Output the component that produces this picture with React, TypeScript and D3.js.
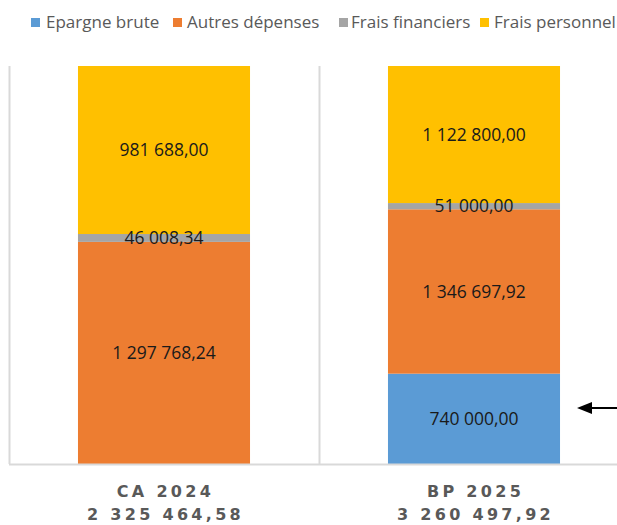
import React from "react";
import * as d3 from "d3";

const categories = ["CA 2024", "BP 2025"];
const totals = ["2 325 464,58", "3 260 497,92"];
const seriesNames = ["Epargne brute", "Autres dépenses", "Frais financiers", "Frais personnel"];
const epargneBrute = [0, 740000.0];
const autresDepenses = [1297768.24, 1346697.92];
const fraisFinanciers = [46008.34, 51000.0];
const fraisPersonnel = [981688.0, 1122800.0];
const colors = ["#5B9BD5", "#ED7D31", "#A5A5A5", "#FFC000"];

const W = 617;
const H = 525;
const plotLeft = 9;
const plotTop = 66;
const plotBottom = 464;

const locale = d3.formatLocale({ decimal: ",", thousands: " ", grouping: [3], currency: ["", "€"] });
const fmt = locale.format(",.2f");

export default function App() {
  const seriesArrays = [epargneBrute, autresDepenses, fraisFinanciers, fraisPersonnel];
  const rows = categories.map((c, i) => {
    const r: any = { cat: c };
    seriesNames.forEach((s, j) => (r[s] = seriesArrays[j][i]));
    return r;
  });
  const stack = d3.stack<any>().keys(seriesNames).offset(d3.stackOffsetExpand);
  const stacked = stack(rows);

  const x = d3.scaleBand<string>().domain(categories).range([plotLeft, plotLeft + 620]).paddingInner(0).paddingOuter(0);
  const y = d3.scaleLinear().domain([0, 1]).range([plotBottom, plotTop]);
  const barW = x.bandwidth() * 0.555;

  const legendItems = [
    { sx: 31, tx: 46 },
    { sx: 173, tx: 187 },
    { sx: 339, tx: 351 },
    { sx: 480, tx: 494 },
  ];

  return (
    <svg width={W} height={H} style={{ position: "absolute", left: 0, top: 0 }}>
      <rect x={0} y={0} width={W} height={H} fill="#fff" />
      {/* legend */}
      {seriesNames.map((s, i) => (
        <g key={s}>
          <rect x={legendItems[i].sx} y={18} width={9} height={9} fill={colors[i]} />
          <text x={legendItems[i].tx} y={28} fontFamily="Open Sans" fontSize={17} fill="#595959">
            {s}
          </text>
        </g>
      ))}
      {/* grid / frame lines */}
      <line x1={plotLeft + 0.5} x2={plotLeft + 0.5} y1={plotTop} y2={plotBottom} stroke="#D9D9D9" strokeWidth={2} />
      {categories.slice(1).map((c) => (
        <line key={c} x1={x(c)! + 0.5} x2={x(c)! + 0.5} y1={plotTop} y2={plotBottom} stroke="#D9D9D9" strokeWidth={2} />
      ))}
      {/* bars */}
      {stacked.map((ser, si) => (
        <g key={ser.key}>
          {ser.map((d, ci) => {
            const cat = categories[ci];
            const bx = x(cat)! + (x.bandwidth() - barW) / 2;
            return (
              <rect key={cat} x={bx} y={y(d[1])} width={barW} height={Math.max(0, y(d[0]) - y(d[1]))} fill={colors[si]} />
            );
          })}
        </g>
      ))}
      <line x1={plotLeft} x2={W} y1={plotBottom + 0.5} y2={plotBottom + 0.5} stroke="#D9D9D9" strokeWidth={2} />
      {/* data labels */}
      {stacked.map((ser, si) => (
        <g key={"l" + ser.key}>
          {ser.map((d, ci) => {
            const v = seriesArrays[si][ci];
            if (!v) return null;
            const cat = categories[ci];
            const cx = x(cat)! + x.bandwidth() / 2;
            const cy = (y(d[0]) + y(d[1])) / 2;
            return (
              <text key={cat} x={cx} y={cy} dy="0.36em" textAnchor="middle" fontFamily="Open Sans" fontSize={17.5} fill="#1a1a1a">
                {fmt(v)}
              </text>
            );
          })}
        </g>
      ))}
      {/* category labels */}
      {categories.map((c, i) => {
        const cx = x(c)! + x.bandwidth() / 2 + 1.5;
        return (
          <g key={"c" + c}>
            <text x={cx} y={497} textAnchor="middle" fontFamily="DejaVu Sans" fontWeight="bold" fontSize={16} letterSpacing={3.3} fill="#595959">
              {c}
            </text>
            <text x={cx} y={520} textAnchor="middle" fontFamily="DejaVu Sans" fontWeight="bold" fontSize={16} letterSpacing={3.3} fill="#595959">
              {totals[i]}
            </text>
          </g>
        );
      })}
      {/* arrow */}
      <line x1={W} x2={588} y1={408} y2={408} stroke="#000" strokeWidth={2} />
      <path d="M577,408 L592,402 L592,414 Z" fill="#000" />
    </svg>
  );
}
